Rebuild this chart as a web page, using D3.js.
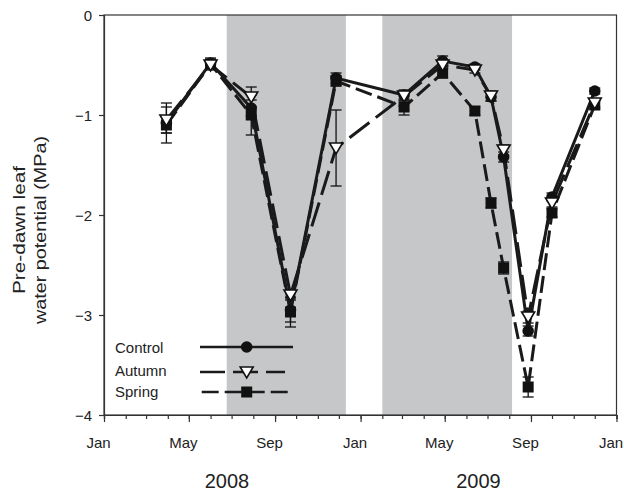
<!DOCTYPE html>
<html><head><meta charset="utf-8">
<script src="https://cdn.jsdelivr.net/npm/d3@7/dist/d3.min.js"></script>
<style>body{margin:0;background:#fff}svg{display:block;font-family:"Liberation Sans",Arial,sans-serif}</style>
</head><body>
<svg id="c" width="624" height="491"></svg>
<script>
const dates = ["2008-03-30","2008-06-01","2008-07-29","2008-09-23","2008-11-27","2009-03-04","2009-04-28","2009-06-13","2009-07-06","2009-07-24","2009-08-28","2009-10-01","2009-12-01"];
const controlVals = [-1.08,-0.48,-0.93,-2.95,-0.63,-0.80,-0.46,-0.52,-0.82,-1.42,-3.16,-1.82,-0.76];
const autumnVals  = [-1.05,-0.50,-0.82,-2.80,-1.33,-0.81,-0.50,-0.55,-0.81,-1.35,-3.02,-1.88,-0.88];
const springVals  = [-1.10,-0.49,-1.00,-2.97,-0.66,-0.92,-0.58,-0.96,-1.88,-2.53,-3.72,-1.98,-0.90];
const controlErr = [0.20,0.05,0.08,0.12,0.05,0.05,0.05,0.03,0.04,0.05,0.05,0.04,0.03];
const autumnErr  = [0.13,0.05,0.10,0.05,0.38,0.05,0.04,0.03,0.05,0.05,0.06,0.04,0.04];
const springErr  = [0.08,0.04,0.20,0.15,0.05,0.08,0.05,0.04,0.05,0.06,0.10,0.04,0.04];
const shadePeriods = [["2008-06-24","2008-12-11"],["2009-02-01","2009-08-05"]];
const yTicks = [0,-1,-2,-3,-4];
const xTickLabels = ["Jan","May","Sep","Jan","May","Sep","Jan"];
const yearLabels = [["2008","2008-07-01"],["2009","2009-07-01"]];
const seriesNames = ["Control","Autumn","Spring"];

const parse = d3.timeParse("%Y-%m-%d");
const svg = d3.select("#c");
const L=104, R=616.5, T=15, B=415;
const x = d3.scaleTime().domain([parse("2008-01-01"), parse("2010-01-01")]).range([L,R]);
const y = d3.scaleLinear().domain([-4,0]).range([B,T]);

// shading
svg.selectAll("rect.shade").data(shadePeriods).enter().append("rect")
  .attr("x",d=>x(parse(d[0]))).attr("y",T)
  .attr("width",d=>x(parse(d[1]))-x(parse(d[0]))).attr("height",B-T)
  .attr("fill","#c6c7c9");

// frame
svg.append("rect").attr("x",L).attr("y",T).attr("width",R-L).attr("height",B-T)
  .attr("fill","none").attr("stroke","#333").attr("stroke-width",1.2);

// y axis
const yAxis = d3.axisLeft(y).tickValues(yTicks).tickSize(5).tickFormat(d=>d===0?"0":"\u2212"+Math.abs(d));
const gy = svg.append("g").attr("transform",`translate(${L},0)`).call(yAxis);
gy.select(".domain").attr("stroke","#333").attr("stroke-width",1.2);
gy.selectAll(".tick line").attr("stroke","#333").attr("stroke-width",1.2);
gy.selectAll(".tick text").attr("font-size",15).attr("fill","#222").attr("x",-12).attr("dy","0.36em")
  .attr("font-family","Liberation Sans, Arial, sans-serif");

// x axis minor
const months = d3.timeMonth.range(parse("2008-01-01"), d3.timeDay.offset(parse("2010-01-01"),1));
const gxm = svg.append("g").attr("transform",`translate(0,${B})`)
  .call(d3.axisBottom(x).tickValues(months).tickSize(4).tickFormat(""));
gxm.select(".domain").attr("stroke","#333").attr("stroke-width",1.2);
gxm.selectAll(".tick line").attr("stroke","#333").attr("stroke-width",1.2);
// x axis major
const majors = d3.timeMonth.every(4).range(parse("2008-01-01"), d3.timeDay.offset(parse("2010-01-01"),1));
const gx = svg.append("g").attr("transform",`translate(0,${B})`)
  .call(d3.axisBottom(x).tickValues(majors).tickSize(7).tickFormat((d,i)=>xTickLabels[i]));
gx.select(".domain").remove();
gx.selectAll(".tick line").attr("stroke","#333").attr("stroke-width",1.2);
gx.selectAll(".tick text").attr("font-size",15).attr("fill","#222").attr("x",-6).attr("y",22).attr("dy","0.71em")
  .attr("font-family","Liberation Sans, Arial, sans-serif");

// year labels
svg.selectAll("text.year").data(yearLabels).enter().append("text")
  .attr("x",(d,i)=>[227,478.5][i]).attr("y",488).attr("text-anchor","middle")
  .attr("font-size",20).attr("fill","#222").text(d=>d[0]);

// y title
const yt = svg.append("g").attr("transform","translate(0,230) rotate(-90)");
yt.append("text").attr("x",0).attr("y",25).attr("text-anchor","middle").attr("font-size",17)
  .attr("fill","#222").attr("textLength",128).attr("lengthAdjust","spacingAndGlyphs").text("Pre-dawn leaf");
yt.append("text").attr("x",0).attr("y",46).attr("text-anchor","middle").attr("font-size",17)
  .attr("fill","#222").attr("textLength",188).attr("lengthAdjust","spacingAndGlyphs").text("water potential (MPa)");

const series = [
  {name:"Control", vals:controlVals, err:controlErr, dash:null, marker:"circle"},
  {name:"Autumn", vals:autumnVals, err:autumnErr, dash:"25,8", marker:"tri"},
  {name:"Spring", vals:springVals, err:springErr, dash:"17,6", marker:"square"}
];
const pts = s => dates.map((d,i)=>({d:parse(d), v:s.vals[i], e:s.err[i]}));
const line = d3.line().x(p=>x(p.d)).y(p=>y(p.v));

// error bars
series.forEach(s=>{
  const g = svg.append("g").attr("stroke","#111").attr("stroke-width",1.3);
  pts(s).forEach(p=>{
    const cx=x(p.d);
    g.append("line").attr("x1",cx).attr("x2",cx).attr("y1",y(p.v+p.e)).attr("y2",y(p.v-p.e));
    [p.v+p.e,p.v-p.e].forEach(v=>g.append("line").attr("x1",cx-5.5).attr("x2",cx+5.5).attr("y1",y(v)).attr("y2",y(v)));
  });
});
// lines
[series[2],series[1],series[0]].forEach(s=>{
  svg.append("path").datum(pts(s)).attr("d",line).attr("fill","none").attr("stroke","#1a1a1a")
    .attr("stroke-width",3).attr("stroke-dasharray",s.dash);
});
function marker(g,type,cx,cy){
  if(type==="circle") g.append("circle").attr("cx",cx).attr("cy",cy).attr("r",5.8).attr("fill","#111");
  else if(type==="square") g.append("rect").attr("x",cx-5.5).attr("y",cy-5.5).attr("width",11).attr("height",11).attr("fill","#111");
  else g.append("path").attr("d",`M${cx-6.5},${cy-5}L${cx+6.5},${cy-5}L${cx},${cy+6}Z`).attr("fill","#fff").attr("stroke","#111").attr("stroke-width",1.6);
}
[series[0],series[2],series[1]].forEach(s=>{
  const g=svg.append("g");
  pts(s).forEach(p=>marker(g,s.marker,x(p.d),y(p.v)));
});

// legend
const legY = [347, 372, 392];
const legTextY = [353, 376, 397];
const legX = [[200,293],[200,285],[201.7,289]];
series.forEach((s,i)=>{
  svg.append("text").attr("x",115).attr("y",legTextY[i]).attr("font-size",15).attr("fill","#222").text(seriesNames[i]);
  svg.append("line").attr("x1",legX[i][0]).attr("x2",legX[i][1]).attr("y1",legY[i]).attr("y2",legY[i])
    .attr("stroke","#1a1a1a").attr("stroke-width",2.6).attr("stroke-dasharray",s.dash);
  marker(svg,s.marker,246.7,legY[i]);
});
</script>
</body></html>
